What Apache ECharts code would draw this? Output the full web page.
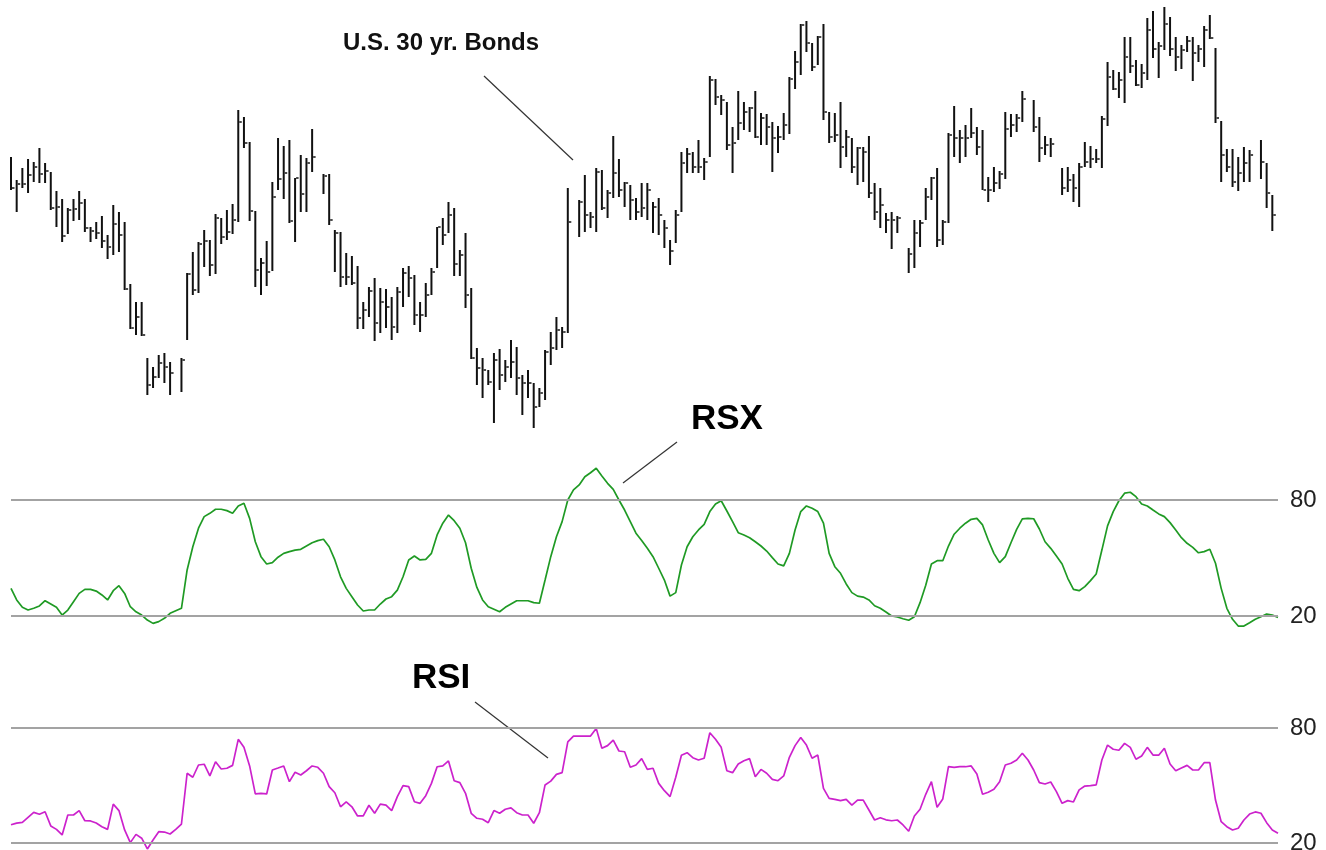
<!DOCTYPE html>
<html>
<head>
<meta charset="utf-8">
<script src="https://cdn.jsdelivr.net/npm/echarts@6/dist/echarts.min.js"></script>
<style>
  html, body { margin: 0; padding: 0; background: #fff; }
  #app { width: 1326px; height: 850px; }
</style>
</head>
<body>
<div id="app"></div>
<script>
// daily bars, U.S. 30 yr. bonds (price in chart units), null = no session
var highs = [293,270,282,291,288,302,287,278,259,251, 242,251,259,251,223,228,234,215,245,238,
  228,166,148,148,92,83,95,97,88,null, 92,177,198,208,220,210,236,232,240,246,
  340,333,308,239,192,209,268,312,304,310, 272,295,292,321,null,276,276,220,218,197,
  194,184,148,163,172,162,161,153,163,182, 184,175,148,167,182,223,232,248,242,200,
  217,162,102,92,80,97,101,90,110,103, 75,80,67,62,100,118,133,123,262,null,
  250,275,238,282,280,260,314,291,268,265, 252,267,267,248,252,230,210,240,298,302,
  298,310,292,374,371,355,348,323,359,348, 343,359,337,336,328,324,337,373,399,426,
  429,407,414,426,338,337,348,320,312,303, 303,314,267,262,237,238,234,null,202,230,
  230,262,273,282,230,317,344,320,325,342, 323,320,273,283,279,338,336,336,359,null,
  350,333,314,312,null,282,283,276,287,308, 304,301,334,388,380,378,413,413,390,386,
  432,439,408,443,433,413,405,414,413,405, 424,435,402,329,301,301,293,303,300,null,
  310,287,255];
var lows = [260,238,262,257,268,267,267,240,223,208, 216,229,230,218,208,211,202,191,195,198,
  160,121,115,114,55,62,72,67,55,null, 58,110,155,157,183,174,176,206,210,216,
  228,302,229,163,155,164,179,260,251,227, 208,238,238,278,null,256,225,178,163,165,
  165,121,121,133,109,117,122,110,117,143, 153,125,118,133,155,182,205,217,174,174,
  142,91,65,52,65,27,60,68,72,55, 35,52,22,43,50,85,100,102,117,null,
  213,218,222,218,240,232,252,253,243,230, 230,233,230,217,215,202,185,207,238,277,
  277,277,270,293,345,335,300,277,310,320, 318,312,305,305,278,297,310,316,361,375,
  398,379,385,330,307,308,282,293,277,265, 268,252,230,222,217,201,217,null,177,182,
  203,230,250,203,205,227,293,287,293,312, 295,260,248,258,261,271,313,318,328,null,
  318,288,295,293,null,255,258,248,243,283, 282,287,282,324,360,352,347,377,364,362,
  370,392,372,400,394,379,381,398,369,388, 383,411,327,268,278,263,259,268,268,null,
  271,242,219];
var closes = [262,266,266,275,283,276,279,242,243,214, 240,241,247,222,219,217,209,203,226,215,
  161,122,133,115,65,73,87,83,77,null, 90,176,160,206,209,185,232,213,218,230,
  328,307,239,180,187,178,253,271,277,229, 272,256,287,293,null,274,230,217,173,173,
  167,132,140,159,127,148,143,123,158,177, 172,135,135,155,178,223,215,235,186,195,
  155,92,82,80,68,90,75,83,88,72, 67,67,43,57,98,102,120,118,228,null,
  248,235,233,278,242,257,277,260,267,250, 238,242,260,243,235,222,199,235,287,296,
  283,283,288,370,353,350,305,307,327,338, 342,313,332,323,312,313,325,371,388,425,
  407,383,413,338,313,315,303,313,283,302, 298,257,238,245,230,230,232,null,196,217,
  227,253,272,210,228,315,312,312,312,317, 303,260,260,267,276,321,325,332,351,null,
  323,302,305,306,null,262,270,262,283,288, 291,291,331,373,361,370,393,384,365,377,
  420,401,404,426,401,393,400,409,397,401, 420,412,332,295,283,268,277,287,295,null,
  288,257,235];

var rsx = [34.3,28.3,24.5,23.1,24.0,25.2,27.9,26.2,24.5,20.5, 23.1,27.4,31.7,33.8,33.8,32.9,30.9,28.3,33.1,35.7,
  31.7,24.8,22.2,20.5,17.9,16.2,17.1,18.8,21.4,22.7, 24.0,43.8,55.8,65.4,71.4,73.1,75.2,75.2,74.5,73.1,
  76.9,78.3,70.5,58.4,50.7,46.9,47.6,50.4,52.4,53.3, 54.1,54.5,56.2,57.9,59.0,59.7,55.8,49.0,40.3,34.3,
  30.0,25.7,22.6,23.1,23.1,26.2,28.8,30.0,33.4,40.3, 49.0,51.0,49.0,49.3,52.4,61.9,68.0,72.2,69.3,65.4,
  57.9,44.7,34.8,28.3,24.8,23.5,22.2,24.5,26.2,27.9, 27.9,27.9,26.9,26.6,38.6,50.7,61.0,68.8,80.0,85.2,
  87.8,92.0,94.1,96.4,92.4,88.6,85.5,80.0,74.8,68.8, 62.8,59.0,55.0,50.7,44.7,38.6,30.3,32.1,46.4,55.8,
  61.0,64.5,67.4,74.0,77.9,79.6,74.3,68.8,63.1,61.9, 60.5,58.4,56.2,53.6,50.2,46.9,45.9,52.4,64.5,74.0,
  76.9,75.7,74.0,68.0,52.4,45.5,42.1,36.6,32.1,30.3, 29.8,28.3,25.3,24.0,22.1,20.0,19.5,18.6,17.8,19.6,
  26.9,35.9,46.9,48.6,48.6,56.2,62.3,65.4,68.0,70.0, 70.5,67.1,59.3,52.4,47.6,50.7,57.9,64.8,70.2,70.5,
  70.3,65.0,58.4,55.0,51.0,46.9,39.5,33.8,33.1,35.2, 38.3,41.7,54.1,66.6,74.0,79.6,83.5,84.0,81.7,77.9,
  76.9,74.8,72.8,71.4,68.3,64.5,60.5,57.6,55.5,52.7, 53.3,54.5,47.3,34.3,24.0,18.3,14.8,14.8,16.5,18.3,
  19.6,21.0,20.5,19.3];

var rsi = [29.5,30.4,30.8,33.4,36.0,35.0,36.3,28.9,27.1,24.2, 34.6,34.6,36.9,31.6,31.5,30.4,28.5,27.1,40.3,36.9,
  26.8,20.2,24.5,22.5,16.9,21.6,25.9,25.7,24.7,27.1, 29.9,56.4,54.3,60.7,61.1,55.0,62.4,58.6,59.0,60.5,
  74.1,69.9,60.2,45.6,45.9,45.6,58.1,59.1,60.2,52.0, 56.9,55.5,57.7,60.2,59.5,56.4,49.4,46.2,38.9,41.5,
  38.9,34.1,34.2,39.7,35.5,40.3,39.8,36.9,44.2,49.9, 49.4,41.5,40.7,44.7,51.1,59.8,60.2,62.8,52.5,51.5,
  45.9,35.5,32.9,32.4,30.6,36.9,35.5,37.6,38.3,35.8, 34.6,34.6,30.3,35.8,50.3,52.3,55.8,56.7,72.8,75.8,
  75.8,75.8,75.8,79.8,69.4,70.8,73.7,68.0,67.6,59.5, 60.7,64.0,58.4,59.0,51.1,47.3,44.2,54.3,65.8,67.1,
  64.5,63.3,64.2,77.5,74.1,69.9,57.7,56.7,61.2,62.9, 64.0,54.6,58.4,56.4,53.2,52.5,55.0,64.7,70.8,75.1,
  71.1,64.2,65.9,48.5,43.3,42.8,42.1,42.8,39.8,42.4, 42.4,37.2,32.0,33.2,32.1,31.6,32.0,29.4,26.1,34.1,
  37.6,45.4,52.0,38.6,43.0,59.8,59.5,59.8,59.8,60.2, 56.0,45.4,46.5,48.0,52.0,60.7,61.6,63.3,66.8,63.3,
  58.1,51.5,50.8,51.8,46.8,40.7,42.1,41.4,47.7,49.7, 49.9,50.3,63.3,71.1,68.9,68.4,72.0,69.9,63.7,65.4,
  69.9,65.9,65.8,69.4,61.2,57.7,59.1,60.5,58.1,58.1, 61.9,61.9,42.4,31.1,28.5,26.8,27.7,32.0,35.1,36.2,
  35.5,30.6,26.8,25.1];

var levels = [80, 20];

var FONT = "'Liberation Sans', Arial, sans-serif";

var barData = [];
for (var i = 0; i < highs.length; i++) {
  if (highs[i] === null) continue;
  barData.push([i, highs[i], lows[i], closes[i]]);
}

function renderBar(params, api) {
  var x = api.value(0);
  var hi = api.coord([x, api.value(1)]);
  var lo = api.coord([x, api.value(2)]);
  var cl = api.coord([x, api.value(3)]);
  return {
    type: 'group',
    children: [
      { type: 'line', shape: { x1: hi[0], y1: hi[1], x2: lo[0], y2: lo[1] },
        style: { stroke: '#111', lineWidth: 2 } },
      { type: 'line', shape: { x1: cl[0] + 1, y1: cl[1], x2: cl[0] + 3.5, y2: cl[1] },
        style: { stroke: '#111', lineWidth: 1.5 } }
    ]
  };
}

function levelLines() {
  return {
    silent: true,
    symbol: 'none',
    lineStyle: { color: '#a3a3a3', type: 'solid', width: 2 },
    label: { position: 'end', distance: 12, formatter: '{c}', color: '#222',
      fontSize: 24, fontFamily: FONT },
    data: levels.map(function (v) { return { yAxis: v }; })
  };
}

var xAxes = [0, 1, 2].map(function (k) {
  return { type: 'value', gridIndex: k, min: 0, max: 223, show: false };
});

var myChart = echarts.init(document.getElementById('app'));
myChart.setOption({
  animation: false,
  backgroundColor: '#fff',
  grid: [
    { left: 11, right: 48, top: 0, height: 450 },
    { left: 11, right: 48, top: 461.3, height: 193.4 },
    { left: 11, right: 48, top: 721.3, height: 128.4 }
  ],
  xAxis: xAxes,
  yAxis: [
    { type: 'value', gridIndex: 0, min: 0, max: 450, show: false },
    { type: 'value', gridIndex: 1, min: 0, max: 100, show: false },
    { type: 'value', gridIndex: 2, min: 16.5, max: 83.5, show: false }
  ],
  series: [
    {
      name: 'U.S. 30 yr. Bonds',
      type: 'custom',
      xAxisIndex: 0,
      yAxisIndex: 0,
      renderItem: renderBar,
      encode: { x: 0, y: [1, 2, 3] },
      data: barData
    },
    {
      name: 'RSX',
      type: 'line',
      xAxisIndex: 1,
      yAxisIndex: 1,
      showSymbol: false,
      lineStyle: { color: '#1f9a24', width: 1.7 },
      data: rsx.map(function (v, i) { return [i, v]; }),
      markLine: levelLines(),
      z: 3
    },
    {
      name: 'RSI',
      type: 'line',
      xAxisIndex: 2,
      yAxisIndex: 2,
      showSymbol: false,
      clip: false,
      lineStyle: { color: '#cc22cc', width: 1.7 },
      data: rsi.map(function (v, i) { return [i, v]; }),
      markLine: levelLines(),
      z: 3
    }
  ],
  graphic: [
    { type: 'text', left: 343, top: 31,
      style: { text: 'U.S. 30 yr. Bonds', font: 'bold 24px ' + FONT, fill: '#111' } },
    { type: 'line', shape: { x1: 484, y1: 76, x2: 573, y2: 160 },
      style: { stroke: '#333', lineWidth: 1.2 } },
    { type: 'text', left: 691, top: 402,
      style: { text: 'RSX', font: 'bold 35px ' + FONT, fill: '#000' } },
    { type: 'line', shape: { x1: 677, y1: 442, x2: 623, y2: 483 },
      style: { stroke: '#333', lineWidth: 1.2 } },
    { type: 'text', left: 412, top: 661,
      style: { text: 'RSI', font: 'bold 35px ' + FONT, fill: '#000' } },
    { type: 'line', shape: { x1: 475, y1: 702, x2: 548, y2: 758 },
      style: { stroke: '#333', lineWidth: 1.2 } }
  ]
});
</script>
</body>
</html>
